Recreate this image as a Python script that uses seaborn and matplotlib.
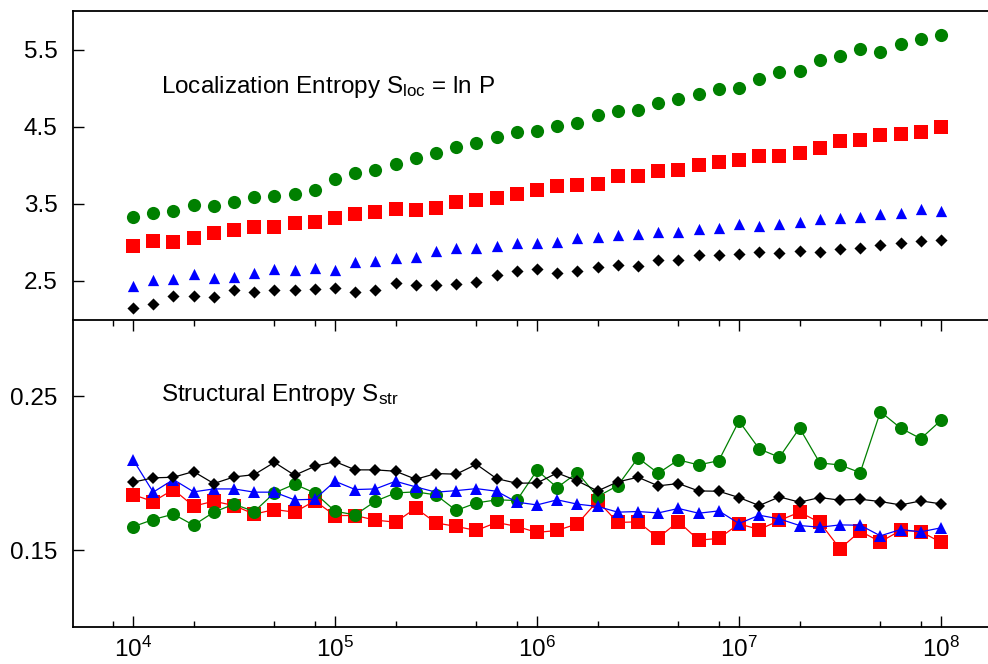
import matplotlib
matplotlib.use("Agg")
import matplotlib.pyplot as plt
import seaborn as sns
import pandas as pd
from matplotlib.ticker import LogLocator, NullFormatter, NullLocator

# ---- data -------------------------------------------------------------
log_n = [4.0, 4.1, 4.2, 4.3, 4.4, 4.5, 4.6, 4.7, 4.8, 4.9,
         5.0, 5.1, 5.2, 5.3, 5.4, 5.5, 5.6, 5.7, 5.8, 5.9,
         6.0, 6.1, 6.2, 6.3, 6.4, 6.5, 6.6, 6.7, 6.8, 6.9,
         7.0, 7.1, 7.2, 7.3, 7.4, 7.5, 7.6, 7.7, 7.8, 7.9, 8.0]
n_values = [10 ** e for e in log_n]

sloc_green = [3.327, 3.382, 3.404, 3.478, 3.473, 3.517, 3.587, 3.600, 3.628, 3.680,
              3.814, 3.892, 3.939, 4.012, 4.086, 4.151, 4.236, 4.280, 4.358, 4.430,
              4.439, 4.508, 4.547, 4.655, 4.702, 4.715, 4.801, 4.857, 4.922, 4.986,
              4.999, 5.116, 5.202, 5.224, 5.362, 5.422, 5.504, 5.470, 5.569, 5.638, 5.685]
sloc_red = [2.942, 3.012, 3.000, 3.051, 3.116, 3.155, 3.193, 3.193, 3.245, 3.258,
            3.318, 3.362, 3.387, 3.434, 3.413, 3.447, 3.517, 3.543, 3.568, 3.624,
            3.676, 3.728, 3.737, 3.754, 3.857, 3.857, 3.922, 3.935, 3.995, 4.034,
            4.060, 4.112, 4.112, 4.151, 4.215, 4.306, 4.319, 4.384, 4.404, 4.435, 4.500]
sloc_blue = [2.425, 2.508, 2.525, 2.589, 2.528, 2.550, 2.602, 2.645, 2.632, 2.667,
             2.641, 2.735, 2.748, 2.796, 2.809, 2.878, 2.917, 2.922, 2.943, 2.986,
             2.986, 2.994, 3.046, 3.068, 3.085, 3.103, 3.133, 3.133, 3.167, 3.188,
             3.232, 3.214, 3.232, 3.266, 3.305, 3.310, 3.327, 3.369, 3.378, 3.426, 3.400]
sloc_black = [2.149, 2.197, 2.301, 2.305, 2.288, 2.378, 2.353, 2.382, 2.373, 2.395,
              2.399, 2.356, 2.382, 2.469, 2.438, 2.443, 2.451, 2.482, 2.576, 2.619,
              2.645, 2.593, 2.624, 2.676, 2.697, 2.684, 2.766, 2.770, 2.831, 2.826,
              2.848, 2.865, 2.857, 2.883, 2.865, 2.904, 2.926, 2.960, 2.986, 3.007, 3.025]

sstr_green = [0.1652, 0.1699, 0.1734, 0.1662, 0.1747, 0.1799, 0.1751, 0.1872, 0.1929, 0.1872,
              0.1753, 0.1729, 0.1818, 0.1872, 0.1879, 0.1859, 0.1758, 0.1807, 0.1827, 0.1823,
              0.2019, 0.1907, 0.2004, 0.1848, 0.1920, 0.2100, 0.2000, 0.2087, 0.2054, 0.2082,
              0.2340, 0.2158, 0.2104, 0.2294, 0.2067, 0.2054, 0.2004, 0.2400, 0.2294, 0.2225, 0.2344]
sstr_red = [0.1861, 0.1816, 0.1894, 0.1786, 0.1818, 0.1790, 0.1734, 0.1764, 0.1747, 0.1820,
            0.1725, 0.1725, 0.1695, 0.1682, 0.1773, 0.1677, 0.1654, 0.1628, 0.1680, 0.1654,
            0.1615, 0.1628, 0.1671, 0.1820, 0.1680, 0.1684, 0.1580, 0.1686, 0.1565, 0.1576,
            0.1671, 0.1634, 0.1693, 0.1747, 0.1680, 0.1509, 0.1623, 0.1554, 0.1628, 0.1621, 0.1550]
sstr_blue = [0.2089, 0.1877, 0.1959, 0.1879, 0.1898, 0.1898, 0.1877, 0.1877, 0.1827, 0.1831,
             0.1948, 0.1894, 0.1898, 0.1948, 0.1911, 0.1877, 0.1887, 0.1900, 0.1883, 0.1812,
             0.1794, 0.1827, 0.1799, 0.1784, 0.1747, 0.1751, 0.1742, 0.1771, 0.1740, 0.1755,
             0.1673, 0.1727, 0.1703, 0.1660, 0.1649, 0.1664, 0.1662, 0.1593, 0.1634, 0.1619, 0.1645]
sstr_black = [0.1942, 0.1970, 0.1974, 0.2011, 0.1933, 0.1976, 0.1991, 0.2071, 0.1987, 0.2045,
              0.2076, 0.2022, 0.2022, 0.2013, 0.1961, 0.1998, 0.1994, 0.2058, 0.1965, 0.1935,
              0.1937, 0.2002, 0.1950, 0.1885, 0.1944, 0.1974, 0.1918, 0.1933, 0.1885, 0.1883,
              0.1842, 0.1790, 0.1846, 0.1812, 0.1842, 0.1825, 0.1831, 0.1816, 0.1794, 0.1820, 0.1801]

top_label = r"Localization Entropy S$_{\mathrm{loc}}$ = ln P"
bottom_label = r"Structural Entropy S$_{\mathrm{str}}$"
top_yticks = [2.5, 3.5, 4.5, 5.5]
bottom_yticks = [0.15, 0.25]

# ---- style ------------------------------------------------------------
sns.set_style("ticks")
plt.rcParams["font.family"] = ["Liberation Sans", "DejaVu Sans"]
plt.rcParams["mathtext.fontset"] = "custom"
plt.rcParams["mathtext.rm"] = "Liberation Sans"
plt.rcParams["mathtext.it"] = "Liberation Sans:italic"
plt.rcParams["mathtext.bf"] = "Liberation Sans:bold"
for key in ("text.color", "axes.labelcolor", "xtick.color", "ytick.color", "axes.edgecolor"):
    plt.rcParams[key] = "black"

FS = 17.5
series = [  # drawing order: red, green, blue, black
    ("red", "s", 88, 9.4, sloc_red, sstr_red),
    ("#008000", "o", 90, 9.4, sloc_green, sstr_green),
    ("blue", "^", 66, 8.2, sloc_blue, sstr_blue),
    ("black", "D", 38, 6.0, sloc_black, sstr_black),
]

fig = plt.figure(figsize=(9.88, 6.64), dpi=100)
ax1 = fig.add_axes([73 / 988, 1 - 319 / 664, 1 - 73 / 988, 308 / 664])
ax2 = fig.add_axes([73 / 988, 1 - 627 / 664, 1 - 73 / 988, 307.5 / 664])

for color, marker, s, ms, top_vals, bot_vals in series:
    df = pd.DataFrame({"N": n_values, "Sloc": top_vals, "Sstr": bot_vals})
    sns.scatterplot(data=df, x="N", y="Sloc", marker=marker, s=s, color=color,
                    linewidth=0, ax=ax1, legend=False)
    sns.lineplot(data=df, x="N", y="Sstr", marker=marker, markersize=ms, color=color,
                 markeredgewidth=0, linewidth=0.9, ax=ax2, legend=False)

xlim = (10 ** 3.703, 10 ** 8.2327)
for ax in (ax1, ax2):
    ax.set_xscale("log")
    ax.set_xlim(*xlim)
    ax.set_xlabel("")
    ax.set_ylabel("")
    ax.spines["right"].set_visible(False)
    for sp in ax.spines.values():
        sp.set_linewidth(1.3)
        sp.set_color("black")
    ax.tick_params(axis="y", direction="in", length=8, width=1.0, labelsize=FS, pad=11)

ax1.set_ylim(2.0, 6.0)
ax1.set_yticks(top_yticks)
ax1.set_yticklabels([f"{v:.1f}" for v in top_yticks])
ax1.spines["bottom"].set_visible(False)
ax1.xaxis.set_major_locator(NullLocator())
ax1.xaxis.set_minor_locator(NullLocator())
ax1.tick_params(axis="x", which="both", bottom=False, labelbottom=False)

ax2.set_ylim(0.10, 0.30)
ax2.set_yticks(bottom_yticks)
ax2.set_yticklabels([f"{v:.2f}" for v in bottom_yticks])
ax2.xaxis.set_major_locator(LogLocator(base=10, numticks=20))
ax2.xaxis.set_minor_locator(LogLocator(base=10, subs=(2.0, 5.0, 8.0), numticks=20))
ax2.xaxis.set_minor_formatter(NullFormatter())
ax2.tick_params(axis="x", which="major", direction="in", length=8, width=1.0,
                top=True, bottom=True, labelsize=FS, pad=7)
ax2.tick_params(axis="x", which="minor", direction="in", length=4, width=1.0,
                top=True, bottom=True)

fig.text(161 / 988, 1 - 93 / 664, top_label, fontsize=FS, va="baseline", ha="left")
fig.text(161 / 988, 1 - 401.5 / 664, bottom_label, fontsize=FS, va="baseline", ha="left")

fig.savefig("out.png", dpi=100)
